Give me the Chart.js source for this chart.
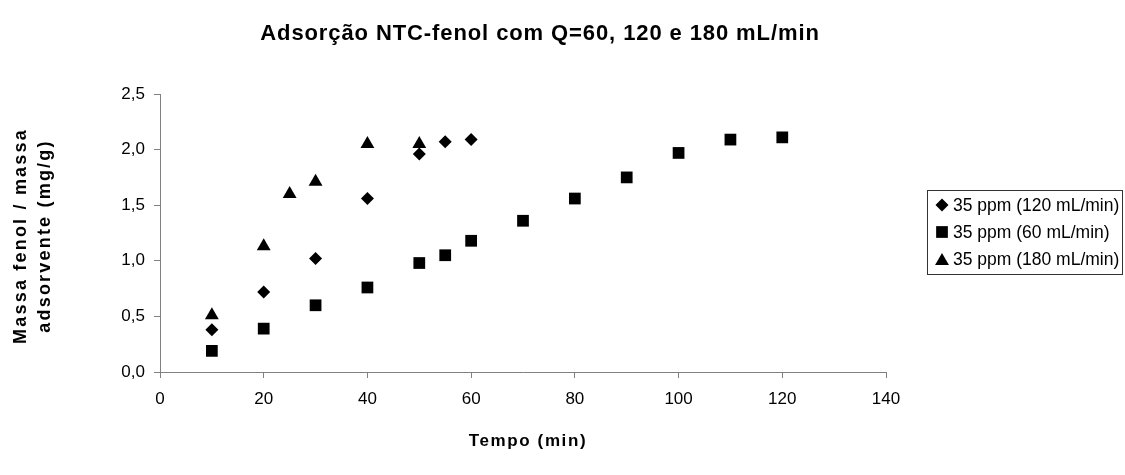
<!DOCTYPE html>
<html lang="pt">
<head>
<meta charset="utf-8">
<title>Adsorção NTC-fenol</title>
<script src="https://cdn.jsdelivr.net/npm/chart.js@4/dist/chart.umd.min.js"></script>
<style>
  html, body { margin: 0; padding: 0; background: #fff; }
  #chart { display: block; }
</style>
</head>
<body>
<canvas id="chart" width="1125" height="475"></canvas>
<script>
// dados
const chartTitle = 'Adsorção NTC-fenol com Q=60, 120 e 180 mL/min';
const xTitle = 'Tempo (min)';
const yTitle = ['Massa fenol / massa', 'adsorvente (mg/g)'];
const seriesNames = ['35 ppm (120 mL/min)', '35 ppm (60 mL/min)', '35 ppm (180 mL/min)'];

const tempo120 = [10, 20, 30, 40, 50, 55, 60];
const massa120 = [0.38, 0.72, 1.02, 1.56, 1.96, 2.07, 2.09];

const tempo60 = [10, 20, 30, 40, 50, 55, 60, 70, 80, 90, 100, 110, 120];
const massa60 = [0.19, 0.39, 0.60, 0.76, 0.98, 1.05, 1.18, 1.36, 1.56, 1.75, 1.97, 2.09, 2.11];

const tempo180 = [10, 20, 25, 30, 40, 50];
const massa180 = [0.51, 1.13, 1.60, 1.71, 2.05, 2.05];

const xTicks = [0, 20, 40, 60, 80, 100, 120, 140];
const yTicks = [0, 0.5, 1.0, 1.5, 2.0, 2.5];

const FONT = '"Liberation Sans", Arial, sans-serif';
Chart.defaults.font.family = FONT;
Chart.defaults.color = '#000';

function toPoints(xs, ys) {
    return xs.map((x, i) => ({ x: x, y: ys[i] }));
}

// títulos e legenda com contorno, no estilo do Excel
const excelLabels = {
    id: 'excelLabels',
    afterDraw(chart) {
        const c = chart.ctx;
        const area = chart.chartArea;
        c.save();
        c.fillStyle = '#000';
        c.textAlign = 'center';
        c.textBaseline = 'alphabetic';

        c.font = 'bold 22px ' + FONT;
        c.letterSpacing = '0.9px';
        c.fillText(chartTitle, 540, 40);

        c.font = 'bold 17px ' + FONT;
        c.letterSpacing = '1.6px';
        c.fillText(xTitle, 528, 446);

        c.font = 'bold 18px ' + FONT;
        c.letterSpacing = '2.2px';
        yTitle.forEach((line, i) => {
            c.save();
            c.translate(26 + i * 23.5, 236);
            c.rotate(-Math.PI / 2);
            c.fillText(line, 0, 0);
            c.restore();
        });

        // legenda
        c.letterSpacing = '0px';
        c.strokeStyle = '#333';
        c.lineWidth = 1;
        c.strokeRect(927.5, 190.5, 195, 84);
        c.textAlign = 'left';
        c.font = '17.5px ' + FONT;
        chart.data.datasets.forEach((ds, i) => {
            const my = 205 + i * 27 + (ds.pointStyle === 'triangle' ? 2 : 0);
            c.fillStyle = '#000';
            Chart.helpers.drawPoint(c, {
                pointStyle: ds.pointStyle,
                radius: ds.pointRadius,
                rotation: 0,
                borderWidth: 0
            }, 942, my);
            c.fillStyle = '#000';
            c.fillText(ds.label, 953, 211 + i * 27);
        });
        c.restore();
    }
};

const axisGrid = {
    drawOnChartArea: false,
    drawTicks: true,
    tickLength: 6,
    color: '#808080'
};

new Chart(document.getElementById('chart'), {
    type: 'scatter',
    data: {
        datasets: [
            {
                label: seriesNames[0],
                data: toPoints(tempo120, massa120),
                pointStyle: 'rectRot',
                pointRadius: 6.5,
                backgroundColor: '#000',
                borderColor: '#000',
                borderWidth: 0
            },
            {
                label: seriesNames[1],
                data: toPoints(tempo60, massa60),
                pointStyle: 'rect',
                pointRadius: 8.3,
                backgroundColor: '#000',
                borderColor: '#000',
                borderWidth: 0
            },
            {
                label: seriesNames[2],
                data: toPoints(tempo180, massa180),
                pointStyle: 'triangle',
                pointRadius: 8,
                backgroundColor: '#000',
                borderColor: '#000',
                borderWidth: 0
            }
        ]
    },
    options: {
        responsive: false,
        animation: false,
        layout: { padding: { top: 94, right: 239, bottom: 0, left: 0 } },
        plugins: {
            legend: { display: false },
            title: { display: false },
            tooltip: { enabled: false }
        },
        scales: {
            x: {
                type: 'linear',
                min: xTicks[0],
                max: xTicks[xTicks.length - 1],
                afterBuildTicks: (scale) => { scale.ticks = xTicks.map(v => ({ value: v })); },
                afterFit: (scale) => { scale.height = 103; },
                ticks: { padding: 11, font: { size: 17 }, color: '#000' },
                grid: axisGrid,
                border: { color: '#808080', width: 1 }
            },
            y: {
                min: yTicks[0],
                max: yTicks[yTicks.length - 1],
                afterBuildTicks: (scale) => { scale.ticks = yTicks.map(v => ({ value: v })); },
                afterFit: (scale) => { scale.width = 160; },
                ticks: {
                    padding: 9,
                    font: { size: 17 },
                    color: '#000',
                    callback: (v) => Number(v).toFixed(1).replace('.', ',')
                },
                grid: axisGrid,
                border: { color: '#808080', width: 1 }
            }
        }
    },
    plugins: [excelLabels]
});
</script>
</body>
</html>
